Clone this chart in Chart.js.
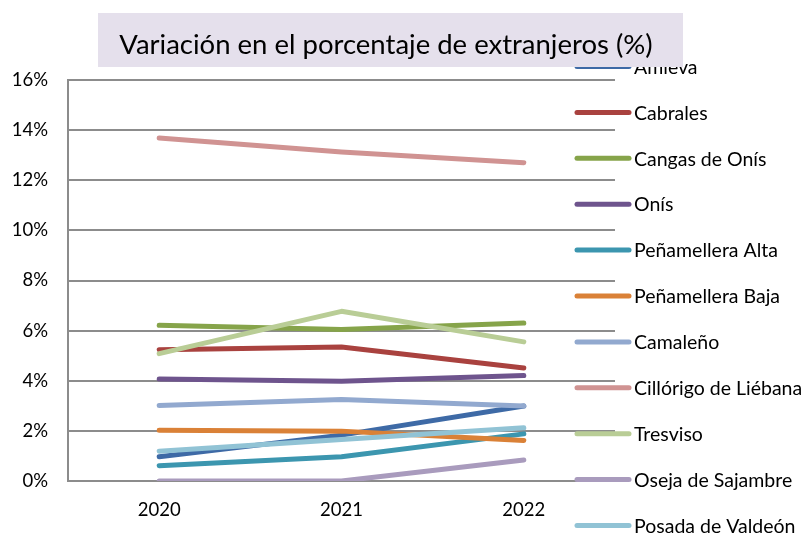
<!DOCTYPE html>
<html>
<head>
<meta charset="utf-8">
<script src="https://cdn.jsdelivr.net/npm/chart.js@4.4.0/dist/chart.umd.min.js"></script>
<style>
  html, body { margin: 0; padding: 0; background: #fff; }
  #wrap { width: 805px; height: 535px; }
</style>
</head>
<body>
<div id="wrap"><canvas id="chart" width="805" height="535"></canvas></div>
<script>
// data (percent of foreign residents)
const years = ['2020', '2021', '2022'];
const municipios = ['Amieva', 'Cabrales', 'Cangas de Onís', 'Onís', 'Peñamellera Alta',
  'Peñamellera Baja', 'Camaleño', 'Cillórigo de Liébana', 'Tresviso', 'Oseja de Sajambre',
  'Posada de Valdeón'];
const amieva = [0.97, 1.83, 2.99];
const cabrales = [5.24, 5.35, 4.51];
const cangas = [6.21, 6.04, 6.30];
const onis = [4.07, 3.98, 4.21];
const penamelleraAlta = [0.61, 0.97, 1.88];
const penamelleraBaja = [2.02, 1.99, 1.62];
const camaleno = [3.01, 3.25, 2.99];
const cillorigo = [13.69, 13.13, 12.70];
const tresviso = [5.08, 6.77, 5.55];
const oseja = [0, 0, 0.84];
const posada = [1.19, 1.66, 2.12];
const yTicks = [0, 2, 4, 6, 8, 10, 12, 14, 16];

const series = [amieva, cabrales, cangas, onis, penamelleraAlta, penamelleraBaja,
  camaleno, cillorigo, tresviso, oseja, posada];
const colores = ['#3e6aa6', '#a9423f', '#86a44a', '#6e548d', '#3c96af', '#da8137',
  '#92a9cf', '#d09392', '#b9cd96', '#a99bbd', '#91c3d5'];

const FONT = 'Lato, "Open Sans", sans-serif';

// legend drawn by hand, it sits over the right part of the plot
const legendPlugin = {
  id: 'legendaLateral',
  afterDraw(chart) {
    const ctx = chart.ctx;
    ctx.save();
    chart.data.datasets.forEach((ds, i) => {
      let y = 66.5 + i * 45.9;
      ctx.strokeStyle = ds.borderColor;
      ctx.lineWidth = 5;
      ctx.lineCap = 'round';
      ctx.beginPath();
      ctx.moveTo(577, y);
      ctx.lineTo(629, y);
      ctx.stroke();
      ctx.fillStyle = '#000';
      ctx.font = '19.5px ' + FONT;
      ctx.textBaseline = 'middle';
      ctx.textAlign = 'left';
      ctx.fillText(ds.label, 634, y + 1);
    });
    ctx.restore();
  }
};

// title inside a lilac box
const titlePlugin = {
  id: 'tituloCaja',
  afterDraw(chart) {
    const ctx = chart.ctx;
    ctx.save();
    ctx.fillStyle = '#e5e0ec';
    ctx.fillRect(98, 13, 585, 54);
    ctx.fillStyle = '#000';
    ctx.font = '27.5px ' + FONT;
    ctx.textAlign = 'center';
    ctx.textBaseline = 'middle';
    ctx.fillText('Variación en el porcentaje de extranjeros (%)', 386, 45);
    ctx.restore();
  }
};

let ctx = document.getElementById('chart').getContext('2d');
let myChart = new Chart(ctx, {
  type: 'line',
  data: {
    labels: years,
    datasets: municipios.map((m, i) => ({
      label: m,
      data: series[i],
      borderColor: colores[i],
      backgroundColor: colores[i],
      borderWidth: 5,
      borderCapStyle: 'round',
      borderJoinStyle: 'round',
      pointRadius: 0,
      fill: false,
      tension: 0,
      order: municipios.length - i // later series on top, like the original
    }))
  },
  options: {
    responsive: false,
    animation: false,
    layout: {
      padding: { left: 10, right: 190, top: 80, bottom: 0 }
    },
    plugins: {
      legend: { display: false },
      title: { display: false },
      tooltip: { enabled: false }
    },
    scales: {
      x: {
        offset: true,
        grid: { display: false, drawTicks: false },
        border: { display: false },
        afterFit: axis => { axis.height = 54; },
        ticks: { color: '#000', font: { family: FONT, size: 18.5 }, padding: 18 }
      },
      y: {
        min: 0,
        max: 16,
        afterBuildTicks: axis => { axis.ticks = yTicks.map(v => ({ value: v })); },
        afterFit: axis => { axis.width = 58; },
        grid: { color: '#8c8c8c', lineWidth: 2, drawTicks: false },
        border: { display: true, color: '#8c8c8c', width: 2 },
        ticks: {
          color: '#000',
          font: { family: FONT, size: 18.5 },
          padding: 20,
          callback: v => v + '%'
        }
      }
    }
  },
  plugins: [legendPlugin, titlePlugin]
});
</script>
</body>
</html>
